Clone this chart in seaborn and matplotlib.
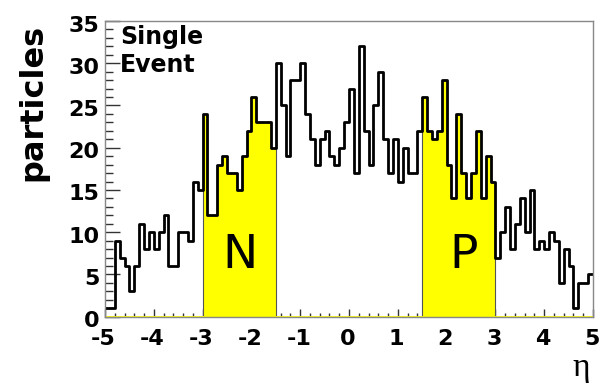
import numpy as np
import pandas as pd
import matplotlib
matplotlib.use("Agg")
import matplotlib.pyplot as plt
import matplotlib.transforms as mtransforms
from matplotlib.ticker import MultipleLocator
import seaborn as sns

# ---- data -------------------------------------------------------------
bin_edges = np.round(np.linspace(-5.0, 5.0, 101), 1)
particles = [
    1, 1, 9, 7, 6, 3, 6, 11, 8, 10,
    8, 10, 12, 6, 6, 10, 10, 9, 16, 15,
    24, 12, 12, 18, 19, 17, 17, 15, 19, 22,
    26, 23, 23, 23, 20, 30, 25, 19, 28, 28,
    30, 24, 21, 18, 21, 22, 19, 18, 20, 23,
    27, 17, 32, 22, 18, 25, 29, 21, 17, 21,
    16, 20, 17, 17, 22, 26, 22, 21, 22, 28,
    18, 14, 24, 17, 14, 17, 22, 14, 19, 16,
    7, 10, 13, 8, 11, 14, 10, 15, 8, 9,
    8, 10, 9, 4, 8, 6, 1, 4, 4, 5,
]
n_window = (-3.0, -1.5)
p_window = (1.5, 3.0)
window_labels = ["N", "P"]
x_ticks = [-5, -4, -3, -2, -1, 0, 1, 2, 3, 4, 5]
y_ticks = [0, 5, 10, 15, 20, 25, 30, 35]

centers = (bin_edges[:-1] + bin_edges[1:]) / 2
in_window = ((centers > n_window[0]) & (centers < n_window[1])) | \
            ((centers > p_window[0]) & (centers < p_window[1]))
df = pd.DataFrame({
    "eta": centers,
    "particles": particles,
    "selected": np.where(in_window, particles, 0),
})
edges_list = bin_edges.tolist()

# ---- style ------------------------------------------------------------
sns.set_theme(style="white")
plt.rcParams["font.family"] = ["DejaVu Sans"]
plt.rcParams["axes.unicode_minus"] = False
plt.rcParams["text.color"] = "black"

W, H = 599, 385
fig = plt.figure(figsize=(W / 100, H / 100), dpi=100)
left, right, top, bottom = 105, 593, 21, 316.7
ax = fig.add_axes([left / W, 1 - bottom / H, (right - left) / W, (bottom - top) / H])

sns.histplot(data=df, x="eta", weights="selected", bins=edges_list,
             element="step", fill=True, color="#ffff00", alpha=1,
             edgecolor="#555555", linewidth=0.8, ax=ax)
sns.histplot(data=df, x="eta", weights="particles", bins=edges_list,
             element="step", fill=False, color="black", linewidth=2, ax=ax)
ax.axhline(0, color="#ffff00", lw=2, zorder=1)

ax.set_xlim(-5, 5)
ax.set_ylim(0, 35)
ax.set_xlabel("")
ax.set_ylabel("")
ax.set_xticks(x_ticks)
ax.set_yticks(y_ticks)
ax.xaxis.set_minor_locator(MultipleLocator(0.2))
ax.yaxis.set_minor_locator(MultipleLocator(1))

for sp in ax.spines.values():
    sp.set_color("#888888")
    sp.set_linewidth(1)

ax.tick_params(axis="x", which="major", direction="in", length=6, width=1,
               color="#333333", pad=9, labelsize=16, bottom=True, top=False)
ax.tick_params(axis="x", which="minor", direction="in", length=3, width=1,
               color="#333333", bottom=True, top=False)
ax.tick_params(axis="y", which="major", direction="in", length=11, width=1,
               color="#333333", pad=4, labelsize=16, left=True, right=False)
ax.tick_params(axis="y", which="minor", direction="in", length=6, width=1,
               color="#333333", left=True, right=False)
for lab in ax.get_xticklabels() + ax.get_yticklabels():
    lab.set_fontweight("bold")
    lab.set_color("black")
shift = mtransforms.ScaledTranslation(0, -2.5 / 100, fig.dpi_scale_trans)
for lab in ax.get_yticklabels():
    lab.set_transform(lab.get_transform() + shift)
xshift = mtransforms.ScaledTranslation(-1.5 / 100, 0, fig.dpi_scale_trans)
for lab in ax.get_xticklabels():
    lab.set_transform(lab.get_transform() + xshift)

# window labels
ax.text(-2.24, 5.76, window_labels[0], ha="center", va="baseline",
        fontsize=34, color="black")
ax.text(2.34, 5.76, window_labels[1], ha="center", va="baseline",
        fontsize=34, color="black")

# annotation text
fig.text(120 / W, 1 - 44.3 / H, "Single", ha="left", va="baseline",
         fontsize=17, fontweight="bold", color="black")
fig.text(120 / W, 1 - 71.7 / H, "Event", ha="left", va="baseline",
         fontsize=17, fontweight="bold", color="black")

# axis titles
fig.text(33 / W, 1 - 102.5 / H, "particles", rotation=90, ha="center",
         va="center", fontsize=23, fontweight="bold", color="black")
fig.text(581 / W, 1 - 376 / H, "η", ha="center", va="baseline",
         fontsize=24, color="black", family=["Liberation Serif", "DejaVu Serif"])

fig.savefig("out.png", dpi=100)
